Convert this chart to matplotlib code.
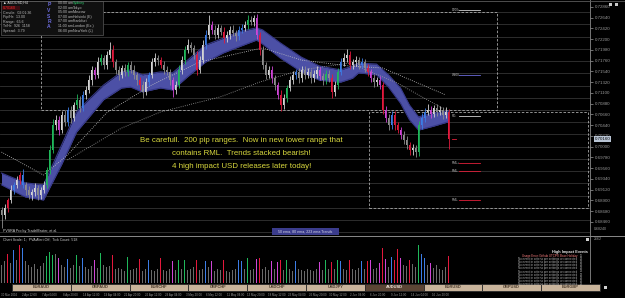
import numpy as np
import matplotlib.pyplot as plt
from matplotlib.patches import Rectangle
from matplotlib.transforms import blended_transform_factory

plt.rcParams['font.family'] = ['Liberation Sans', 'DejaVu Sans']

# ---- price data (AUDUSD H4) ----
first_open = 0.6870
closes = [0.6860, 0.6875, 0.6891, 0.6911, 0.6922, 0.6932, 0.6942, 0.6922, 0.6911, 0.6901,
          0.6907, 0.6916, 0.6901, 0.6911, 0.6922, 0.6952, 0.6993, 0.7044, 0.7055, 0.7034,
          0.7065, 0.7051, 0.7075, 0.7059, 0.7085, 0.7096, 0.7079, 0.7106, 0.7116, 0.7136,
          0.7157, 0.7147, 0.7173, 0.7181, 0.7167, 0.7188, 0.7198, 0.7173, 0.7157, 0.7147,
          0.7161, 0.7153, 0.7167, 0.7157, 0.7147, 0.7136, 0.7126, 0.7112, 0.7132, 0.7147,
          0.7173, 0.7181, 0.7177, 0.7167, 0.7157, 0.7153, 0.7136, 0.7116, 0.7126, 0.7157,
          0.7177, 0.7198, 0.7208, 0.7202, 0.7188, 0.7157, 0.7177, 0.7208, 0.7228, 0.7249,
          0.7239, 0.7228, 0.7243, 0.7235, 0.7222, 0.7228, 0.7239, 0.7233, 0.7226, 0.7239,
          0.7243, 0.7249, 0.7259, 0.7255, 0.7263, 0.7228, 0.7198, 0.7167, 0.7147, 0.7157,
          0.7140, 0.7126, 0.7106, 0.7085, 0.7100, 0.7120, 0.7136, 0.7147, 0.7153, 0.7140,
          0.7157, 0.7147, 0.7153, 0.7140, 0.7149, 0.7157, 0.7145, 0.7136, 0.7149, 0.7140,
          0.7112, 0.7126, 0.7153, 0.7173, 0.7181, 0.7188, 0.7167, 0.7173, 0.7177, 0.7167,
          0.7173, 0.7161, 0.7153, 0.7140, 0.7132, 0.7136, 0.7126, 0.7075, 0.7059, 0.7044,
          0.7065, 0.7044, 0.7034, 0.7024, 0.7014, 0.7003, 0.6993, 0.6997, 0.6989, 0.7044,
          0.7059, 0.7071, 0.7075, 0.7067, 0.7079, 0.7071, 0.7075, 0.7065, 0.7071, 0.7016]
# wick lengths in pips above / below the body
wick_up = [6, 8, 5, 10, 6, 9, 7, 12, 5, 8,
           6, 9, 5, 7, 8, 6, 10, 12, 9, 7,
           8, 10, 7, 9, 6, 12, 8, 7, 9, 10,
           8, 6, 11, 9, 7, 8, 16, 9, 6, 8,
           7, 9, 6, 8, 10, 6, 7, 9, 8, 6,
           9, 10, 7, 6, 8, 9, 6, 7, 8, 10,
           9, 8, 12, 7, 6, 8, 9, 11, 10, 20,
           8, 9, 7, 6, 9, 8, 7, 10, 6, 8,
           7, 9, 10, 8, 6, 9, 7, 8, 6, 9,
           8, 7, 6, 9, 8, 7, 9, 8, 6, 7,
           8, 9, 7, 6, 8, 9, 7, 6, 8, 7,
           9, 8, 7, 9, 10, 12, 8, 7, 9, 6,
           8, 7, 9, 6, 8, 7, 8, 6, 9, 7,
           8, 9, 7, 6, 8, 7, 6, 8, 7, 9,
           10, 8, 12, 9, 7, 8, 9, 7, 10, 6]
wick_dn = [26, 7, 9, 6, 8, 7, 9, 6, 10, 8,
           9, 7, 10, 8, 6, 7, 8, 6, 9, 10,
           7, 9, 8, 10, 7, 8, 9, 6, 8, 7,
           9, 8, 7, 6, 9, 8, 7, 9, 8, 10,
           7, 8, 9, 7, 8, 9, 10, 12, 7, 8,
           6, 8, 9, 7, 8, 7, 9, 14, 8, 6,
           8, 7, 6, 9, 8, 10, 7, 6, 8, 7,
           9, 8, 6, 7, 9, 8, 7, 6, 9, 8,
           7, 6, 8, 7, 9, 8, 10, 9, 8, 7,
           9, 10, 8, 12, 7, 8, 6, 7, 8, 9,
           7, 8, 6, 9, 7, 8, 9, 10, 7, 8,
           12, 8, 7, 6, 8, 7, 9, 8, 7, 8,
           7, 9, 8, 7, 9, 8, 7, 9, 8, 10,
           8, 9, 7, 8, 9, 8, 10, 9, 10, 8,
           7, 8, 6, 9, 7, 8, 6, 9, 7, 21]
# PVSRA candle class: n normal, r red climax, g green climax, b blue rising, m magenta rising
pvsra = ("nnrnbnrbnn" "nnnnngggnm" "nnbnngnbnn" "nmngnnnrnn" "nngnnnrnnb"
         "nnnrnnnmng" "ngnnnrnnbn" "mnnnrnnnnb" "bngnnmrnnn" "mnmrngnnbn"
         "nnnnnnmngn" "rngbnnrnnn" "bnrmnnmrmn" "brrmnnrnng" "bbnmnnnnnr")
volumes = [900, 1100, 1500, 1000, 1700, 1200, 1950, 1800, 1100, 900,
           800, 950, 700, 850, 1000, 1400, 1600, 1450, 1500, 1300,
           900, 800, 1250, 750, 900, 1450, 850, 1300, 800, 700,
           850, 1200, 750, 1550, 900, 800, 850, 1450, 700, 750,
           700, 600, 1350, 650, 700, 750, 1250, 600, 700, 1150,
           650, 600, 700, 1300, 650, 600, 700, 1100, 650, 1200,
           700, 1200, 650, 700, 800, 1150, 650, 700, 1100, 800,
           1100, 600, 700, 650, 1150, 600, 550, 650, 700, 1200,
           1100, 700, 1300, 650, 700, 1250, 1300, 700, 800, 650,
           1100, 700, 1050, 1200, 650, 1150, 700, 600, 1100, 700,
           650, 600, 700, 650, 600, 700, 1050, 650, 1150, 700,
           1050, 700, 1200, 1100, 700, 650, 1150, 700, 650, 750,
           1100, 700, 1100, 1150, 700, 750, 1000, 1800, 1250, 800,
           1350, 1200, 1750, 1300, 900, 850, 1200, 950, 800, 1950,
           1500, 1300, 900, 1000, 750, 900, 700, 650, 800, 1400]

# ema ribbon (50/80 ema band) at some bar indices
band_idx = [0, 8, 14, 20, 25, 29, 34, 40, 43, 47, 53, 57, 62, 68, 74, 79,
            85, 87, 93, 100, 106, 113, 117, 119, 125, 129, 133, 136, 139, 144, 149]
band_hi = [0.6946, 0.6926, 0.6922, 0.7003, 0.7071, 0.7096, 0.7126, 0.7153, 0.7157, 0.7147,
           0.7153, 0.7151, 0.7177, 0.7208, 0.7222, 0.7235, 0.7243, 0.7239, 0.7212, 0.7183,
           0.7165, 0.7157, 0.7165, 0.7171, 0.7169, 0.7147, 0.7120, 0.7085, 0.7061, 0.7069, 0.7073]
band_lo = [0.6922, 0.6897, 0.6891, 0.6963, 0.7030, 0.7059, 0.7096, 0.7120, 0.7122, 0.7112,
           0.7120, 0.7116, 0.7143, 0.7173, 0.7192, 0.7204, 0.7218, 0.7210, 0.7181, 0.7153,
           0.7136, 0.7132, 0.7140, 0.7151, 0.7147, 0.7122, 0.7089, 0.7055, 0.7034, 0.7042, 0.7051]
# dotted moving averages
ma_fast_idx = [0, 14, 22, 35, 50, 66, 87, 100, 116, 127, 148]
ma_fast = [0.6989, 0.6942, 0.6983, 0.7069, 0.7126, 0.7173, 0.7202, 0.7177, 0.7165, 0.7161, 0.7106]
ma_slow_idx = [22, 40, 53, 73, 86, 100, 116, 132, 148]
ma_slow = [0.6973, 0.7038, 0.7071, 0.7102, 0.7132, 0.7157, 0.7171, 0.7130, 0.7075]

# 200 pip range boxes: (first bar, last bar, top, bottom)
range_boxes = [(13, 165, 0.7275, 0.7075), (122.5, 195.5, 0.7071, 0.6875)]
# level marks drawn inside the boxes
levels = [(0.7280, '#d0d0d0', 'D200+'), (0.7147, '#6a6ad8', 'W200-'),
          (0.7063, '#d0d0d0', 'RD-'), (0.6966, '#e0203a', 'RML+'),
          (0.6950, '#e0203a', 'RML-'), (0.6891, '#e0203a', 'RML-')]

price_ticks = [0.72860, 0.72640, 0.72420, 0.72200, 0.71980, 0.71760, 0.71540, 0.71320,
               0.71100, 0.70880, 0.70660, 0.70440, 0.70220, 0.70000, 0.69780, 0.69560,
               0.69340, 0.69120, 0.68900, 0.68680, 0.68460]
time_labels = ['30 Mar 2016', '2 Apr 12:00', '7 Apr 04:00', '8 Apr 20:00', '14 Apr 12:00',
               '19 Apr 04:00', '21 Apr 20:00', '26 Apr 12:00', '29 Apr 04:00', '3 May 20:00',
               '6 May 12:00', '11 May 04:00', '13 May 20:00', '18 May 12:00', '23 May 04:00',
               '25 May 20:00', '30 May 12:00', '2 Jun 04:00', '6 Jun 20:00', '9 Jun 12:00',
               '14 Jun 04:00', '16 Jun 20:00']
symbols = ['EURAUD', 'GBPAUD', 'EURCHF', 'GBPCHF', 'USDCHF', 'USDJPY', 'AUDUSD',
           'EURUSD', 'GBPUSD', 'EURGBP']
active_symbol = 'AUDUSD'
note_lines = ['Be carefull.  200 pip ranges.  Now in new lower range that',
              'contains RML.  Trends stacked bearish!',
              '4 high impact USD releases later today!']
info_left = ['Candle:  02:01:36', 'Pip/Hr:  13.00', 'Range:  65.6', 'Tr/Hr:  926  1158', 'Spread:  3.79']
sessions = [('00:00 am', 'Sydney'), ('02:00 am', 'Tokyo'), ('05:00 am', 'Moscow'),
            ('07:00 am', 'Helsinki (E)'), ('07:00 am', 'Frankfurt'), ('11:00 am', 'London (Ex.)'),
            ('06:00 pm', 'NewYork (L)')]
events = ['Usage Error: Github UTC/PE Base Holiday', 'No event in criteria per settings or connected',
          'No event in criteria per settings or connected', 'No event in criteria per settings or connected',
          'No event in criteria per settings or connected', 'No event in criteria per settings or connected',
          'No event in criteria per settings or connected', 'No event in criteria per settings or connected',
          'No event in criteria per settings or connected', 'No event in criteria per settings or connected']
event_hours = ['11', '13', '13', '13', '13', '13', '13', '13', '13', '13']

colors = {'r': '#e3183c', 'g': '#1fb85a', 'b': '#3c7de6', 'm': '#cf45d6'}

W, H = 625, 298
fig = plt.figure(figsize=(W / 100, H / 100), dpi=100, facecolor='black')

# ---- main price pane ----
ax = fig.add_axes([0, 1 - 235 / H, 590 / W, 235 / H])
ax.set_facecolor('black')
ax.set_xlim(-0.5, 590 / 3 - 0.5)
ax.set_ylim(0.68194, 0.7300)
for p in np.arange(0.6825, 0.7300, 0.0025):
    ax.axhline(p, color='#343434', lw=0.6, zorder=0)

ax.fill_between(band_idx, band_lo, band_hi, color='#4c50a6', lw=0, zorder=2)
ax.plot(band_idx, band_hi, color='#363888', lw=0.8, zorder=2)
ax.plot(band_idx, band_lo, color='#363888', lw=0.8, zorder=2)
ax.plot(ma_fast_idx, ma_fast, color='#c8c8c8', lw=0.6, ls=(0, (1, 1.6)), zorder=2)
ax.plot(ma_slow_idx, ma_slow, color='#a0a0a0', lw=0.6, ls=(0, (1, 1.6)), zorder=2)

c = np.array(closes)
o = np.r_[first_open, c[:-1]]
hi = np.maximum(o, c) + np.array(wick_up) * 1e-4
lo = np.minimum(o, c) - np.array(wick_dn) * 1e-4
idx = np.arange(len(c))
cc = []
for k, code in enumerate(pvsra):
    if code == 'n':
        cc.append('#d4d4d4' if c[k] >= o[k] else '#8e8e8e')
    else:
        cc.append(colors[code])
ax.vlines(idx, lo, hi, colors=cc, lw=0.6, zorder=3)
body = np.maximum(np.abs(c - o), 0.00012)
ax.bar(idx, body, bottom=np.minimum(o, c), width=0.6, color=cc, lw=0, zorder=3)

for x0, x1, top, bot in range_boxes:
    ax.add_patch(Rectangle((x0, bot), x1 - x0, top - bot, fill=False, ec='#a8a8a8',
                           lw=0.6, ls=(0, (3, 2)), zorder=1))
for p, col, lab in levels:
    ax.plot([152.5, 159.5], [p, p], color=col, lw=0.6, zorder=4)
    ax.text(150, p, lab, color='#c0c0c0', fontsize=2.2, va='center', zorder=4)
ax.plot([150.2, 151.5], [0.7016, 0.7016], color='#e0203a', lw=0.6, zorder=4)

ax.yaxis.tick_right()
ax.set_yticks(price_ticks)
ax.set_yticklabels([f'{p:.5f}' for p in price_ticks])
ax.tick_params(axis='y', colors='#9a9a9a', labelsize=3.2, length=2, width=0.5, pad=1.5)
ax.set_xticks([])
for s in ['top', 'left', 'bottom']:
    ax.spines[s].set_visible(False)
ax.spines['right'].set_color('#8a8a8a')
ax.spines['right'].set_linewidth(0.6)
tr = blended_transform_factory(ax.transAxes, ax.transData)
ax.text(1.008, closes[-1], f'{closes[-1]:.5f}', transform=tr, fontsize=3.2, color='black',
        va='center', ha='left', bbox=dict(boxstyle='square,pad=0.15', fc='#b8c4d4', ec='none'),
        zorder=6)

for k, line in enumerate(note_lines):
    ax.text(80, 0.7013 - k * 0.0027, line, color='#d8d83e', fontsize=5.7, ha='center',
            va='center', zorder=5)

# ---- PVSRA volume pane ----
axv = fig.add_axes([0, 15 / H, 590 / W, 47 / H])
axv.set_facecolor('black')
axv.set_xlim(-0.5, 590 / 3 - 0.5)
axv.set_ylim(0, 2400)
vcol = ['#6a6a6a' if code == 'n' else colors[code] for code in pvsra]
axv.bar(idx, volumes, width=0.55, color=vcol, lw=0)
axv.set_xticks([])
axv.set_yticks([])
for s in ['top', 'left', 'bottom']:
    axv.spines[s].set_visible(False)
axv.spines['right'].set_color('#8a8a8a')
axv.spines['right'].set_linewidth(0.6)

# ---- overlay for terminal widgets (pixel coordinates) ----
ui = fig.add_axes([0, 0, 1, 1], zorder=10)
ui.set_xlim(0, W)
ui.set_ylim(H, 0)
ui.axis('off')
ui.patch.set_alpha(0)
tiny = dict(fontsize=2.6, va='center')

# pane separator and labels
ui.plot([0, W], [235.5, 235.5], color='#8a8a8a', lw=0.7)
ui.plot([0, W], [0.5, 0.5], color='#5a5a5a', lw=0.6)
ui.text(3, 231, 'PVSRA Pro by TradeMaster, et al.', color='#d8d8d8', **tiny)
ui.add_patch(Rectangle((272, 228), 67, 7, fc='#3b3c8c', ec='none'))
ui.text(305.5, 231.5, '50 ema, 80 ema, 223 ema Trends', color='#d8d8e8', ha='center', **tiny)
ui.text(3, 239.5, 'Chart Scale: 1;  PVA Alert:Off;  Tick Count: 518', color='#c8c8c8', **tiny)
ui.text(594, 229.5, '0.68240', color='#9a9a9a', **tiny)
ui.text(594, 238.5, '2662', color='#9a9a9a', **tiny)
ui.add_patch(Rectangle((586, 237.5), 3, 3, fc='#d0d0d0', ec='none'))
for xb in (609, 615):
    ui.add_patch(Rectangle((xb, 2.5), 3, 3, fc='#c8c8c8', ec='none'))

# info panel
ui.add_patch(Rectangle((0.5, 0.5), 102, 34, fc='#101010', ec='#4a4a4a', lw=0.6))
ui.text(3, 3, '\u25b2 AUDUSD,H4', color='#e0e0e0', **tiny)
ui.add_patch(Rectangle((2, 5.5), 18, 4.5, fc='#3a0c10', ec='none'))
ui.text(3, 7.8, f'{closes[-1]:.5f}', color='#ff2a2a', **tiny)
for k, t in enumerate(info_left):
    ui.text(3, 12.5 + k * 4.6, t, color='#bdbdbd', **tiny)
for k, ch in enumerate('PVSRA'):
    ui.text(49, 5 + k * 5.5, ch, color='#6d6de0', fontsize=3.6, ha='center', va='center',
            fontweight='bold')
for k, (tm, city) in enumerate(sessions):
    ui.text(58, 3 + k * 4.6, tm, color='#bdbdbd', **tiny)
    ui.text(73, 3 + k * 4.6, city, color='#2fd070' if k == 0 else '#bdbdbd', **tiny)

# high impact events list
ui.text(588, 251.5, 'High Impact Events', color='#e8e8e8', ha='right', fontsize=2.8,
        fontweight='bold', va='center')
for k, (ev, hr) in enumerate(zip(events, event_hours)):
    ui.text(577, 256 + k * 3.1, ev, color='#ff8080' if k == 0 else '#b0b0b0', ha='right',
            fontsize=2.1, va='center')
    ui.text(580, 256 + k * 3.1, hr, color='#b0b0b0', fontsize=2.1, va='center')

# symbol tabs
ui.add_patch(Rectangle((0, 283), W, 8.5, fc='black', ec='none'))
tab_w = (600 - 12) / len(symbols)
for k, sym in enumerate(symbols):
    x0 = 12 + k * tab_w
    on = sym == active_symbol
    ui.add_patch(Rectangle((x0, 283.5), tab_w, 7.5, fc='#5b4535' if on else '#c9b49b',
                           ec='#2a2a2a', lw=0.6))
    ui.text(x0 + tab_w / 2, 287.3, sym, color='#f0e6da' if on else '#4a3a2a', fontsize=2.9,
            ha='center', va='center', fontweight='bold')
ui.add_patch(Rectangle((604, 285.5), 3, 3, fc='#d0d0d0', ec='none'))

# time axis
for xt, lab in zip(np.linspace(1, 432, len(time_labels)), time_labels):
    ui.text(xt, 294.8, lab, color='#9a9a9a', fontsize=2.1, va='center', ha='left')

fig.savefig('out.png', dpi=100, facecolor='black')
